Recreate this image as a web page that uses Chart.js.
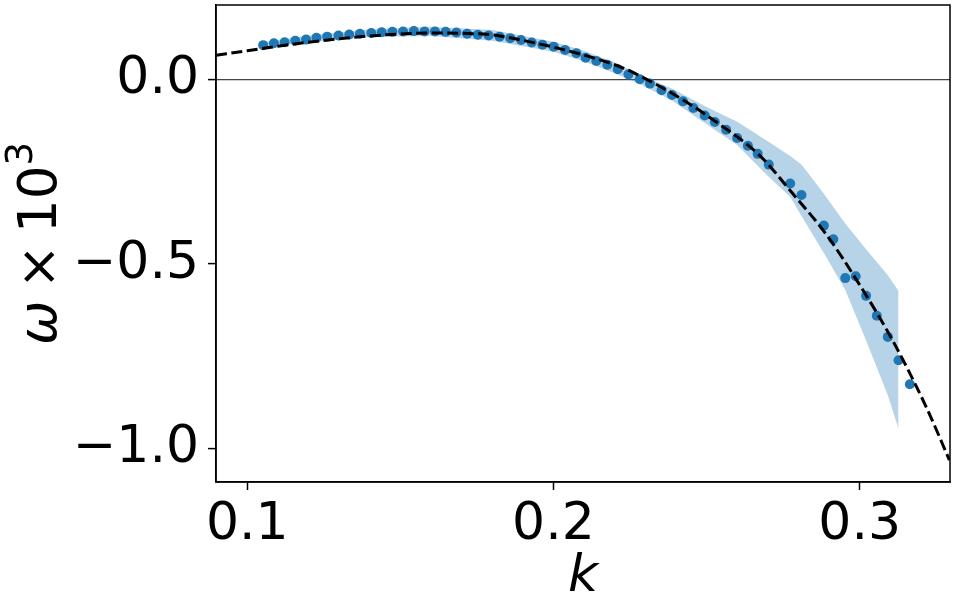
<!DOCTYPE html>
<html>
<head>
<meta charset="utf-8">
<script src="https://cdn.jsdelivr.net/npm/chart.js@4"></script>
<style>
  html, body { margin: 0; padding: 0; background: #fff; }
  #wrap { width: 955px; height: 603px; }
</style>
</head>
<body>
<div id="wrap"><canvas id="myChart" width="955" height="603"></canvas></div>
<script>
// Messpunkte (blaue Punkte)
const dotK = [0.1052,0.1087,0.1122,0.1157,0.1192,0.1226,0.1261,0.1298,0.1333,0.1368,0.1405,0.1439,0.1474,0.1509,0.1544,0.1579,0.1613,0.1648,0.1683,0.1718,0.1753,0.1788,0.1824,0.1859,0.1894,0.1929,0.1964,0.2001,0.2038,0.2075,0.2105,0.2140,0.2176,0.2210,0.2245,0.2282,0.2315,0.2353,0.2387,0.2423,0.2457,0.2494,0.2527,0.2564,0.2600,0.2635,0.2667,0.2703,0.2773,0.2810,0.2883,0.2914,0.2953,0.2987,0.3021,0.3056,0.3092,0.3127,0.3164];
const dotW = [0.092,0.097,0.100,0.104,0.107,0.112,0.115,0.118,0.121,0.123,0.125,0.127,0.128,0.129,0.130,0.129,0.129,0.128,0.126,0.123,0.120,0.118,0.115,0.111,0.106,0.099,0.093,0.088,0.079,0.070,0.058,0.049,0.039,0.027,0.013,0.000,-0.012,-0.030,-0.043,-0.060,-0.078,-0.098,-0.116,-0.137,-0.159,-0.180,-0.202,-0.231,-0.282,-0.313,-0.396,-0.433,-0.538,-0.533,-0.586,-0.640,-0.697,-0.760,-0.825];

// Streuband (hellblau)
const bandK  = [0.1052,0.12,0.14,0.16,0.18,0.20,0.21,0.22,0.2282,0.2387,0.25,0.26,0.27,0.2773,0.281,0.2883,0.2953,0.3021,0.3092,0.3127];
const bandHi = [0.100,0.118,0.135,0.142,0.133,0.101,0.077,0.045,0.012,-0.025,-0.075,-0.115,-0.168,-0.208,-0.231,-0.31,-0.39,-0.46,-0.53,-0.573];
const bandLo = [0.086,0.100,0.114,0.117,0.104,0.074,0.048,0.016,-0.013,-0.058,-0.122,-0.178,-0.262,-0.318,-0.37,-0.470,-0.570,-0.707,-0.855,-0.946];

// gestrichelte Fit-Kurve
const lineK = [0.0898,0.10,0.11,0.12,0.13,0.14,0.15,0.16,0.17,0.18,0.19,0.2023,0.2129,0.2228,0.2282,0.2401,0.2532,0.2673,0.2782,0.2891,0.2999,0.3108,0.3217,0.3293];
const lineW = [0.065,0.077,0.089,0.100,0.109,0.117,0.122,0.125,0.124,0.120,0.105,0.082,0.058,0.030,0.009,-0.045,-0.116,-0.206,-0.31,-0.42,-0.555,-0.707,-0.886,-1.03];

// Achsen
const xTicks = [0.1, 0.2, 0.3];
const yTicks = [-1.0, -0.5, 0.0];
const xLimits = [0.0898, 0.3295];
const yLimits = [-1.0894, 0.2006];

const pts = (xs, ys) => xs.map((x, i) => ({ x: x, y: ys[i] }));
const fmt = v => v.toFixed(1).replace('-', '\u2212');
const FONT = 'DejaVu Sans';

// Rahmen um den Plotbereich + y-Achsentitel
const framePlugin = {
    id: 'frame',
    afterDraw(chart) {
        const { ctx, chartArea: a } = chart;
        ctx.save();
        ctx.strokeStyle = '#000';
        ctx.lineWidth = 1.5;
        ctx.strokeRect(a.left, a.top, a.right - a.left, a.bottom - a.top);

        // ω × 10³ (gedreht)
        const size = 53;
        const parts = [
            { t: '\u03c9', f: 'italic ' + size + 'px "' + FONT + '"', dy: 0, gap: 0.22 * size },
            { t: '\u00d7', f: size + 'px "' + FONT + '"', dy: 0, gap: 0.22 * size },
            { t: '10', f: size + 'px "' + FONT + '"', dy: 0, gap: 0 },
            { t: '3', f: Math.round(size * 0.7) + 'px "' + FONT + '"', dy: -0.45 * size, gap: 0 }
        ];
        let total = 0;
        parts.forEach(p => { ctx.font = p.f; p.w = ctx.measureText(p.t).width; total += p.w + p.gap; });
        ctx.translate(56, (a.top + a.bottom) / 2);
        ctx.rotate(-Math.PI / 2);
        ctx.fillStyle = '#000';
        ctx.textBaseline = 'alphabetic';
        ctx.textAlign = 'left';
        let x = -total / 2;
        parts.forEach(p => { ctx.font = p.f; ctx.fillText(p.t, x, p.dy); x += p.w + p.gap; });
        ctx.restore();
    }
};

const ctx = document.getElementById('myChart').getContext('2d');
new Chart(ctx, {
    type: 'scatter',
    data: {
        datasets: [
            {
                // Fit-Kurve, oben drauf
                data: pts(lineK, lineW),
                showLine: true,
                borderColor: '#000',
                borderWidth: 3,
                borderDash: [11, 4.5],
                pointRadius: 0,
                cubicInterpolationMode: 'monotone',
                fill: false
            },
            {
                data: pts(dotK, dotW),
                backgroundColor: '#1f77b4',
                borderWidth: 0,
                pointRadius: 5,
                showLine: false
            },
            {
                data: pts(bandK, bandHi),
                showLine: true,
                borderWidth: 0,
                borderColor: 'rgba(0,0,0,0)',
                pointRadius: 0,
                tension: 0,
                fill: '+1',
                backgroundColor: 'rgba(31,119,180,0.32)'
            },
            {
                data: pts(bandK, bandLo),
                showLine: true,
                borderWidth: 0,
                borderColor: 'rgba(0,0,0,0)',
                pointRadius: 0,
                tension: 0,
                fill: false
            }
        ]
    },
    options: {
        responsive: false,
        animation: false,
        layout: { padding: { top: 1, right: 4, left: 0, bottom: 0 } },
        plugins: {
            legend: { display: false },
            tooltip: { enabled: false }
        },
        scales: {
            x: {
                type: 'linear',
                min: xLimits[0],
                max: xLimits[1],
                afterBuildTicks: s => { s.ticks = xTicks.map(v => ({ value: v })); },
                afterFit: s => { s.height = 121; s.paddingLeft = 0; s.paddingRight = 0; },
                border: { display: true, color: '#000', width: 1.5 },
                grid: { drawOnChartArea: false, drawTicks: true, tickLength: 8, tickColor: '#000', tickWidth: 1.5 },
                ticks: {
                    color: '#000',
                    padding: 4,
                    maxRotation: 0,
                    font: { family: FONT, size: 52 },
                    callback: v => fmt(v)
                },
                title: {
                    display: true,
                    text: 'k',
                    color: '#000',
                    font: { family: FONT, size: 52, style: 'italic', lineHeight: 1 },
                    padding: { top: 0, bottom: 0 }
                }
            },
            y: {
                type: 'linear',
                min: yLimits[0],
                max: yLimits[1],
                afterBuildTicks: s => { s.ticks = yTicks.map(v => ({ value: v })); },
                afterFit: s => { s.width = 216; s.paddingTop = 0; s.paddingBottom = 0; },
                border: { display: true, color: '#000', width: 1.5 },
                grid: {
                    drawOnChartArea: true,
                    drawTicks: true,
                    tickLength: 8,
                    tickColor: '#000',
                    tickWidth: 1.5,
                    // nur die Nulllinie im Plot zeigen
                    color: c => (c.tick && c.tick.value === 0) ? '#444' : 'rgba(0,0,0,0)',
                    lineWidth: 1.2
                },
                ticks: {
                    color: '#000',
                    padding: 9,
                    font: { family: FONT, size: 52 },
                    callback: v => fmt(v)
                }
            }
        }
    },
    plugins: [framePlugin]
});
</script>
</body>
</html>
